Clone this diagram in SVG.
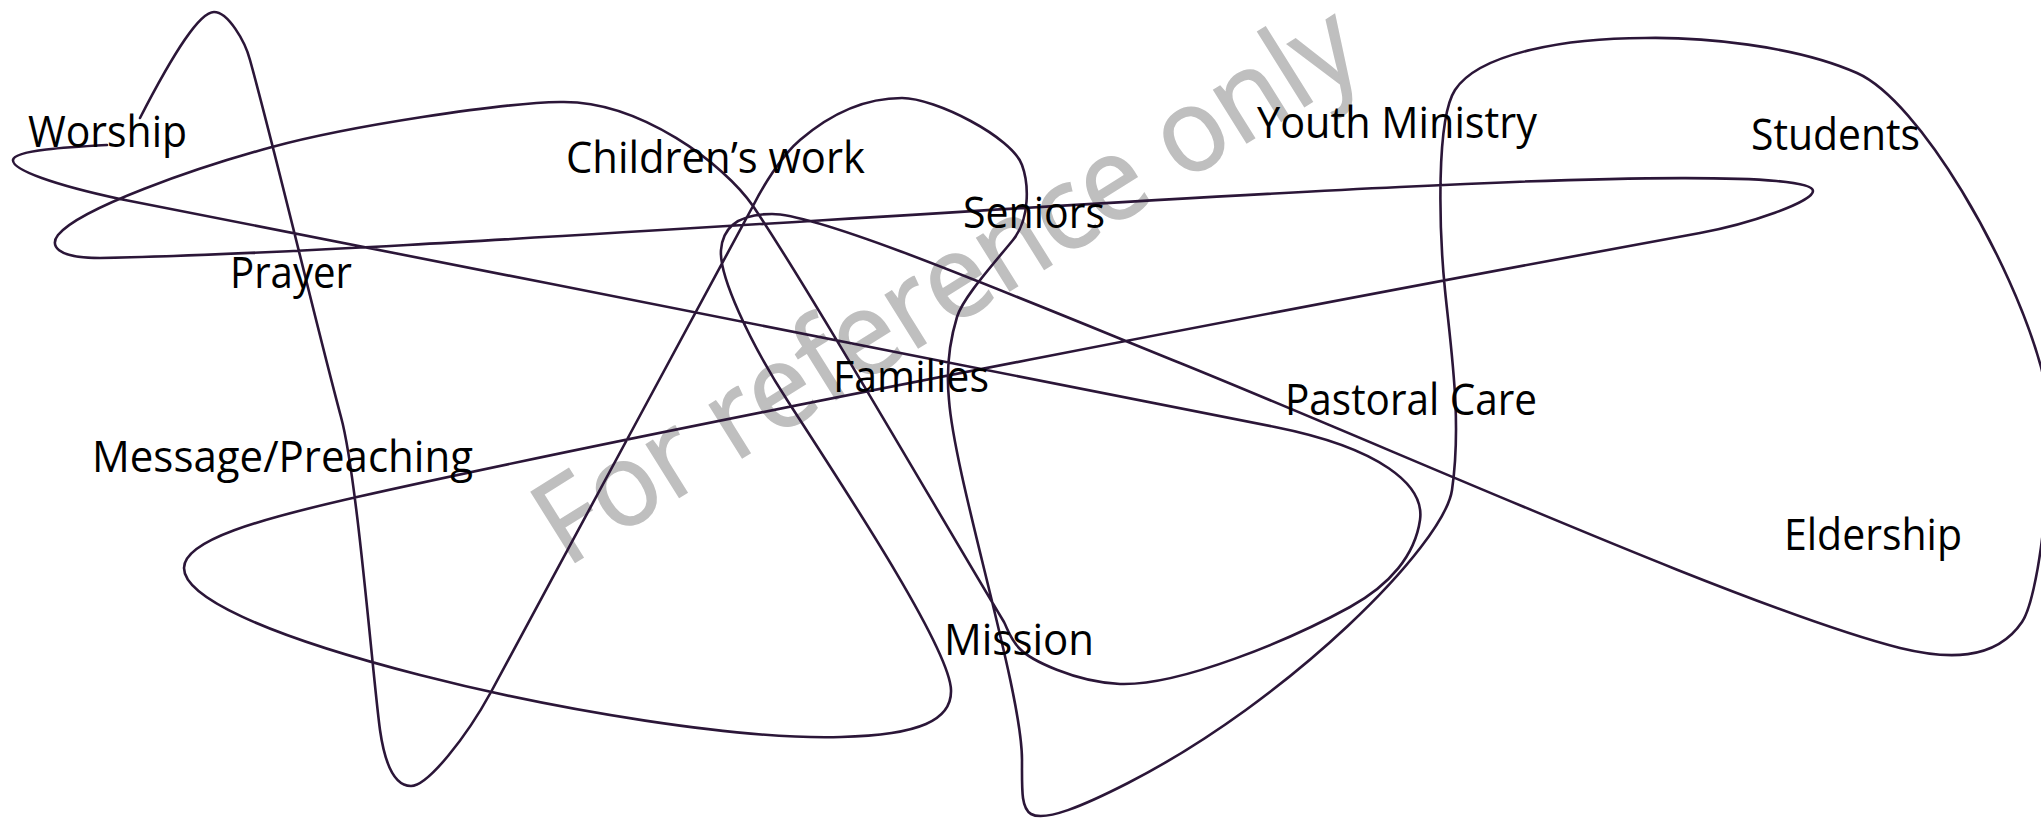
<svg xmlns="http://www.w3.org/2000/svg" width="2041" height="819" viewBox="0 0 2041 819">
<style>
.lbl{font-family:"Open Sans","Noto Sans","Liberation Sans",sans-serif;font-size:43px;fill:#000;}
.wm{font-family:"Open Sans","Noto Sans","Liberation Sans",sans-serif;font-size:116px;fill:#bfbfbf;stroke:#bfbfbf;stroke-width:1.6;}
.curve{fill:none;stroke:#2b1638;stroke-width:2.6;stroke-linecap:round;stroke-linejoin:round;}
</style>
<rect x="0" y="0" width="2041" height="819" fill="#ffffff"/>
<g id="watermark"><text class="wm" transform="translate(566,568) rotate(-32)" x="0" y="0" textLength="945" lengthAdjust="spacingAndGlyphs">For reference only</text></g>
<g id="connectors">
<path class="curve" d="M107,145 C70,147 14,150 13,160 C12,170 55,185 120,199 C500,274 1000,372 1275,427 C1380,448 1425,485 1420,520 C1415,555 1390,585 1350,607 C1290,640 1180,686 1120,684 C1075,682 1030,660 1019,648 C1010,638 1008,630 1004,622 C932,502 809,289 753,206 C725,165 640,100 560,102 C500,103 349,126 272,147 C195,168 80,208 58,235 C50,245 55,258 100,258 C350,254 1000,206 1400,187 C1600,177 1813,172 1813,191 C1813,202 1749,224 1700,233 C1400,288 700,420 357,497 C260,519 184,540 184,568 C184,596 260,634 420,675 C560,711 740,740 841,737 C920,735 952,720 951,690 C950,650 854,503 789,403 C748,340 719,275 721,250 C723,225 742,214 772,214 C820,214 1000,290 1180,363 C1400,452 1750,610 1900,648 C1945,659 1995,662 2022,622 C2042,592 2058,430 2041,367 C2012,261 1920,101 1857,73 C1794,45 1700,37 1645,38 C1570,38 1480,52 1455,90 C1436,119 1439,230 1445,290 C1451,350 1462,420 1452,490 C1444,545 1290,700 1128,783 C1083,806 1045,822 1031,814 C1021,808 1022,790 1022,760 C1022,690 955,480 949,400 C946,370 950,340 957,317 C963,298 990,268 1013,240 C1030,219 1029,184 1022,165 C1012,137 935,98 902,98 C870,98 835,110 800,140 C781,156 762,188 753,206 C682,338 538,604 491,692 C467,736 428,786 411,786 C395,786 385,765 380,730 C373,680 357,475 341,417 C315,320 275,150 250,60 C245,41 228,12 214,12 C200,12 175,50 140,118"/>
</g>
<g id="node-worship"><text class="lbl" x="28" y="147" textLength="159" lengthAdjust="spacingAndGlyphs">Worship</text></g>
<g id="node-childrens-work"><text class="lbl" x="566" y="173" textLength="299" lengthAdjust="spacingAndGlyphs">Children’s work</text></g>
<g id="node-prayer"><text class="lbl" x="230" y="288" textLength="122" lengthAdjust="spacingAndGlyphs">Prayer</text></g>
<g id="node-seniors"><text class="lbl" x="963" y="228" textLength="142" lengthAdjust="spacingAndGlyphs">Seniors</text></g>
<g id="node-families"><text class="lbl" x="833" y="392" textLength="156" lengthAdjust="spacingAndGlyphs">Families</text></g>
<g id="node-youth-ministry"><text class="lbl" x="1257" y="138" textLength="280" lengthAdjust="spacingAndGlyphs">Youth Ministry</text></g>
<g id="node-students"><text class="lbl" x="1751" y="150" textLength="169" lengthAdjust="spacingAndGlyphs">Students</text></g>
<g id="node-pastoral-care"><text class="lbl" x="1285" y="415" textLength="252" lengthAdjust="spacingAndGlyphs">Pastoral Care</text></g>
<g id="node-message-preaching"><text class="lbl" x="92" y="472" textLength="381" lengthAdjust="spacingAndGlyphs">Message/Preaching</text></g>
<g id="node-mission"><text class="lbl" x="944" y="655" textLength="150" lengthAdjust="spacingAndGlyphs">Mission</text></g>
<g id="node-eldership"><text class="lbl" x="1784" y="550" textLength="178" lengthAdjust="spacingAndGlyphs">Eldership</text></g>
</svg>
